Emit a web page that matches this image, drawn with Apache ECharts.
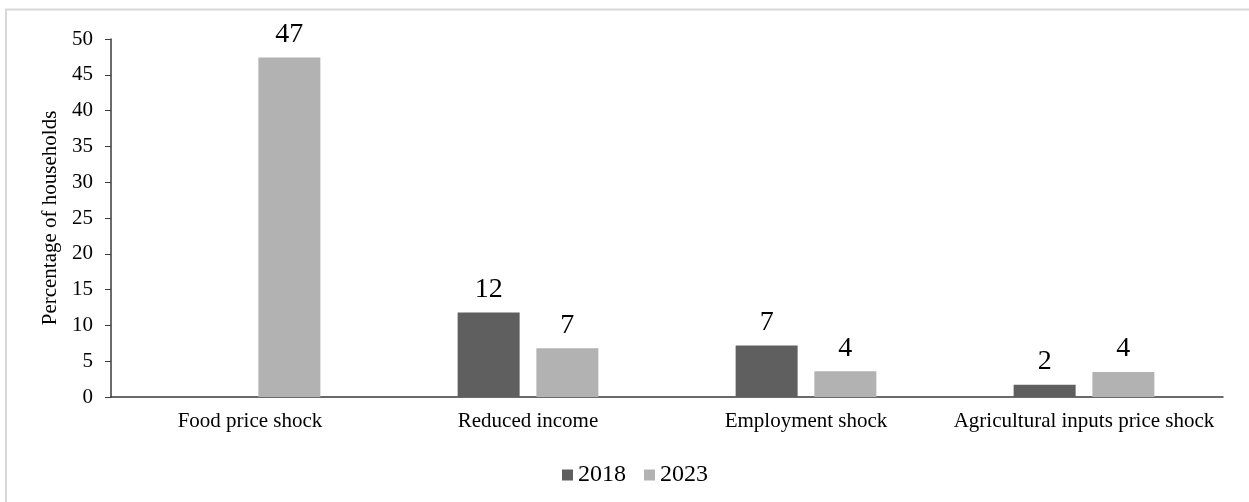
<!DOCTYPE html>
<html>
<head>
<meta charset="utf-8">
<script src="https://cdn.jsdelivr.net/npm/echarts@6/dist/echarts.min.js"></script>
<style>
  html, body { margin: 0; padding: 0; background: #ffffff; }
  #chart { width: 1249px; height: 502px; }
</style>
</head>
<body>
<div id="chart"></div>
<script>
// Shock categories reported by households
const categories = ['Food price shock', 'Reduced income', 'Employment shock', 'Agricultural inputs price shock'];
// Percentage of households affected, by survey year
const series2018 = [null, 11.8, 7.2, 1.7];
const series2023 = [47.4, 6.8, 3.6, 3.5];
const yearNames = ['2018', '2023'];
// Value axis ticks
const yMin = 0, yMax = 50, yStep = 5;

const FONT = "'Liberation Serif', 'Times New Roman', serif";

const chart = echarts.init(document.getElementById('chart'), null, { renderer: 'canvas' });

function barSeries(name, data, color) {
  return {
    name: name,
    type: 'bar',
    data: data,
    barWidth: 62,
    barGap: '27%',
    itemStyle: { color: color },
    label: {
      show: true,
      position: 'top',
      distance: 9,
      fontFamily: FONT,
      fontSize: 28,
      color: '#000000',
      formatter: p => (p.value == null ? '' : String(Math.round(p.value)))
    },
    emphasis: { disabled: true }
  };
}

chart.setOption({
  animation: false,
  backgroundColor: '#ffffff',
  graphic: [{
    type: 'rect',
    shape: { x: 6, y: 9.5, width: 1300, height: 600 },
    style: { fill: 'none', stroke: '#d9d9d9', lineWidth: 2 },
    silent: true,
    z: -1
  }],
  grid: { left: 111, right: 26, top: 39, bottom: 105, containLabel: false },
  legend: {
    data: yearNames,
    top: 458,
    left: 557,
    icon: 'rect',
    itemWidth: 11,
    itemHeight: 11,
    itemGap: 18,
    textStyle: { fontFamily: FONT, fontSize: 24, color: '#000000' }
  },
  xAxis: {
    type: 'category',
    data: categories,
    axisLine: { show: true, lineStyle: { color: '#3a3a3a', width: 1.5 } },
    axisTick: { show: false },
    axisLabel: { margin: 14, fontFamily: FONT, fontSize: 21, color: '#000000', interval: 0 },
    splitLine: { show: false }
  },
  yAxis: {
    type: 'value',
    min: yMin, max: yMax, interval: yStep,
    name: 'Percentage of households',
    nameLocation: 'middle',
    nameGap: 48,
    nameRotate: 90,
    nameTextStyle: { fontFamily: FONT, fontSize: 21, color: '#000000' },
    axisLine: { show: true, lineStyle: { color: '#3a3a3a', width: 1.5 } },
    axisTick: { show: true, length: 6, lineStyle: { color: '#3a3a3a' } },
    axisLabel: { margin: 18, fontFamily: FONT, fontSize: 21, color: '#000000' },
    splitLine: { show: false }
  },
  series: [
    barSeries(yearNames[0], series2018, '#5f5f5f'),
    barSeries(yearNames[1], series2023, '#b2b2b2')
  ]
});
</script>
</body>
</html>
